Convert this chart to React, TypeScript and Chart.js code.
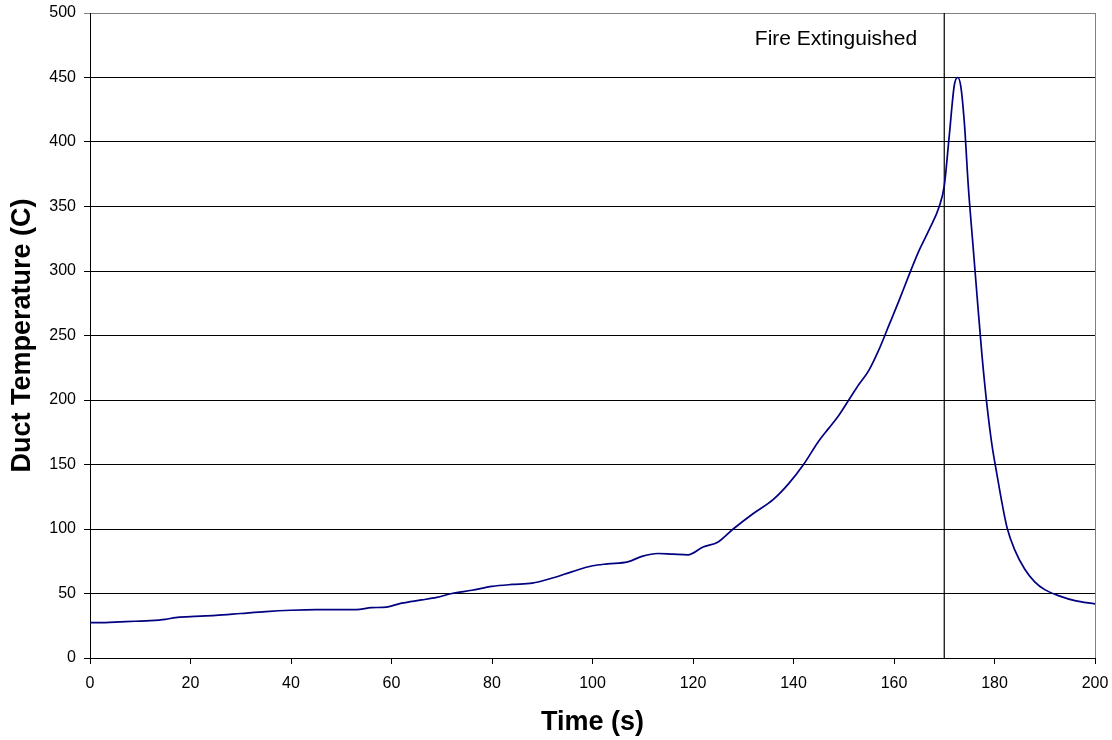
import React, { useEffect, useRef } from "react";
import { Chart, registerables } from "chart.js";

Chart.register(...registerables);

const timeSeconds = [
  0, 3, 6, 9, 12, 15, 17, 20, 25, 30, 35, 40, 45, 50, 53, 56, 59, 62, 66, 69,
  72, 76, 80, 84, 88, 92, 96, 100, 103, 107, 110, 113, 116, 119, 122, 125, 128,
  132, 136, 139, 142, 145, 147, 149, 151, 153, 155, 157, 159, 161, 163, 165,
  167, 169, 170, 171, 172, 172.7, 173.3, 174, 174.8, 175.8, 176.5, 177.5,
  178.5, 179.5, 180.5, 181.5, 182.5, 184, 186, 188, 190, 193, 196, 200,
];

const ductTemp = [
  27.5, 27.5, 28, 28.5, 29, 30, 31.3, 32, 33, 34.5, 36, 37, 37.5, 37.5, 37.5,
  39, 39.5, 42.5, 45, 47, 50, 52.5, 55.5, 57, 58, 62, 67, 71.5, 73, 74.5, 79,
  81, 80.5, 80, 86, 90, 100, 112, 123, 135, 150, 168, 178, 188, 200, 212, 223,
  239, 258, 277, 297, 316, 332, 350, 366, 405, 444, 450, 443, 415, 365, 316,
  282, 235, 196, 165, 142, 120, 101, 84, 69, 59, 53, 48, 44.5, 42,
];

const extinguishTime = 170;
const extinguishLabel = "Fire Extinguished";
const xTicks = [0, 20, 40, 60, 80, 100, 120, 140, 160, 180, 200];
const yTicks = [0, 50, 100, 150, 200, 250, 300, 350, 400, 450, 500];

const FONT = '"Liberation Sans", Arial, sans-serif';

export default function App() {
  const ref = useRef<HTMLCanvasElement | null>(null);

  useEffect(() => {
    if (!ref.current) return;
    const annotate = {
      id: "annotate",
      afterDraw(chart: any) {
        const { ctx, chartArea, scales } = chart;
        ctx.save();
        ctx.strokeStyle = "#808080";
        ctx.lineWidth = 1;
        ctx.beginPath();
        ctx.moveTo(Math.round(chartArea.right) + 0.5, chartArea.top);
        ctx.lineTo(Math.round(chartArea.right) + 0.5, chartArea.bottom);
        ctx.stroke();
        ctx.fillStyle = "#000";
        ctx.font = `21px ${FONT}`;
        ctx.textAlign = "right";
        ctx.textBaseline = "alphabetic";
        ctx.fillText(
          extinguishLabel,
          scales.x.getPixelForValue(164.6),
          scales.y.getPixelForValue(475)
        );
        ctx.restore();
      },
    };

    const chart = new Chart(ref.current, {
      type: "line",
      data: {
        datasets: [
          {
            label: "Duct Temperature",
            data: timeSeconds.map((t, i) => ({ x: t, y: ductTemp[i] })),
            borderColor: "#000080",
            borderWidth: 1.7,
            pointRadius: 0,
            cubicInterpolationMode: "monotone",
            fill: false,
          },
          {
            label: "Extinguished",
            data: [
              { x: extinguishTime, y: 0 },
              { x: extinguishTime, y: 500 },
            ],
            borderColor: "#000",
            borderWidth: 1.2,
            pointRadius: 0,
            fill: false,
          },
        ],
      },
      options: {
        animation: false,
        responsive: true,
        maintainAspectRatio: false,
        layout: { padding: { top: 13, right: 17, left: 0, bottom: 0 } },
        plugins: { legend: { display: false }, tooltip: { enabled: false } },
        scales: {
          x: {
            type: "linear",
            min: 0,
            max: 200,
            afterFit: (s: any) => {
              s.height = 82;
              s.paddingLeft = 0;
              s.paddingRight = 0;
            },
            afterBuildTicks: (s: any) => {
              s.ticks = xTicks.map((v) => ({ value: v }));
            },
            grid: {
              drawOnChartArea: false,
              drawTicks: true,
              tickLength: 6,
              color: "#000",
            },
            border: { color: "#000", width: 1 },
            ticks: {
              color: "#000",
              font: { family: FONT, size: 16 },
              padding: 10,
              maxRotation: 0,
            },
            title: {
              display: true,
              text: "Time (s)",
              color: "#000",
              font: { family: FONT, size: 27, weight: "bold" },
              padding: { top: 0, bottom: 1 },
            },
          },
          y: {
            type: "linear",
            min: 0,
            max: 500,
            afterFit: (s: any) => {
              s.width = 90;
              s.paddingTop = 0;
              s.paddingBottom = 0;
            },
            afterBuildTicks: (s: any) => {
              s.ticks = yTicks.map((v) => ({ value: v }));
            },
            grid: {
              drawOnChartArea: true,
              drawTicks: true,
              tickLength: 6,
              color: (c: any) =>
                c.tick && c.tick.value === 500 ? "#808080" : "#000",
              lineWidth: 1,
            },
            border: { color: "#000", width: 1 },
            ticks: {
              color: "#000",
              font: { family: FONT, size: 16 },
              padding: 8,
            },
            title: {
              display: true,
              text: "Duct Temperature (C)",
              color: "#000",
              font: { family: FONT, size: 27, weight: "bold" },
              padding: { top: 6, bottom: 0 },
            },
          },
        },
      },
      plugins: [annotate],
    });
    return () => chart.destroy();
  }, []);

  return (
    <div
      style={{
        position: "fixed",
        left: 0,
        top: 0,
        width: 1112,
        height: 740,
        background: "#fff",
      }}
    >
      <canvas ref={ref} />
    </div>
  );
}
